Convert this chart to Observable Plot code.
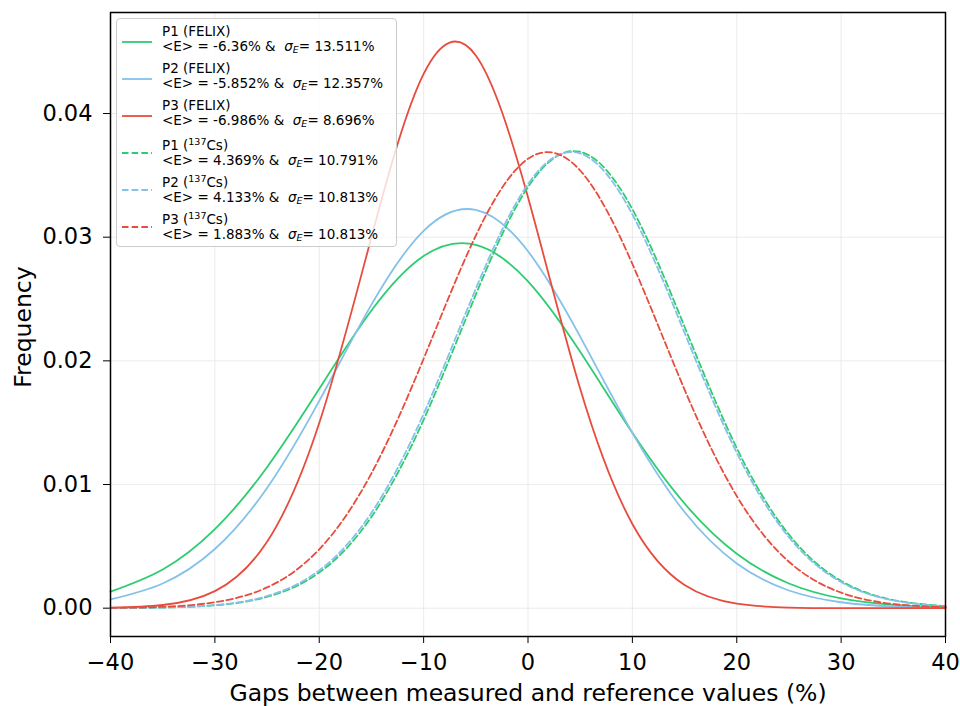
<!DOCTYPE html>
<html>
<head>
<meta charset="utf-8">
<script src="https://cdn.jsdelivr.net/npm/d3@7"></script>
<script src="https://cdn.jsdelivr.net/npm/@observablehq/plot@0.6"></script>
<style>
  body { margin: 0; background: white; font-family: "DejaVu Sans", sans-serif; }
  #wrap { position: relative; width: 960px; height: 706px; }
  #legend { position: absolute; left: 116px; top: 18px; width: 281px; height: 229px;
    border: 1px solid #cccccc; border-radius: 4px; background: rgba(255,255,255,0.8); box-sizing: border-box; }
  .entry { position: absolute; left: 45px; font-size: 13.5px; line-height: 14.7px; color: black; white-space: pre; }
  .sample { position: absolute; left: 5px; }
  .axlabel { position: absolute; font-size: 23.5px; line-height: 27px; color: black; white-space: nowrap; }
</style>
</head>
<body>
<div id="wrap"></div>
<script>
// ---- data ----
const xs = [-40, -35, -30, -25, -20, -15, -10, -5, 0, 5, 10, 15, 20, 25, 30, 35, 40];
const p1Felix = [0.001331, 0.003123, 0.006389, 0.011401, 0.017738, 0.024067, 0.028475, 0.029378, 0.026431, 0.020735, 0.014185, 0.008462, 0.004402, 0.001997, 0.000790, 0.000272, 0.000082];
const p2Felix = [0.000709, 0.001999, 0.004783, 0.009718, 0.016763, 0.024546, 0.030516, 0.032208, 0.028860, 0.021955, 0.014179, 0.007774, 0.003619, 0.001430, 0.000480, 0.000137, 0.000033];
const p3Felix = [0.000034, 0.000256, 0.001383, 0.005367, 0.014971, 0.030003, 0.043202, 0.044695, 0.033223, 0.017744, 0.006809, 0.001877, 0.000372, 0.000053, 0.0000054, 0.0000004, 0.0];
const p1Cs = [0.0000079, 0.0000476, 0.000232, 0.000911, 0.002887, 0.007383, 0.015234, 0.025360, 0.034061, 0.036907, 0.032264, 0.022756, 0.012949, 0.005944, 0.002202, 0.000658, 0.000159];
const p2Cs = [0.0000089, 0.0000528, 0.000253, 0.000979, 0.003057, 0.007711, 0.015704, 0.025826, 0.034296, 0.036777, 0.031845, 0.022266, 0.012572, 0.005732, 0.002110, 0.000627, 0.000151];
const p3Cs = [0.0000204, 0.000110, 0.000478, 0.001678, 0.004760, 0.010904, 0.020170, 0.030129, 0.036340, 0.035393, 0.027836, 0.017677, 0.009065, 0.003754, 0.001255, 0.000339, 0.0000739];
const seriesNames = ["P1 (FELIX)", "P2 (FELIX)", "P3 (FELIX)", "P1 (137Cs)", "P2 (137Cs)", "P3 (137Cs)"];
const legendTitles = ["P1 (FELIX)", "P2 (FELIX)", "P3 (FELIX)", "P1 (<sup>137</sup>Cs)", "P2 (<sup>137</sup>Cs)", "P3 (<sup>137</sup>Cs)"];
const meanE = ["-6.36", "-5.852", "-6.986", "4.369", "4.133", "1.883"];
const sigmaE = ["13.511", "12.357", "8.696", "10.791", "10.813", "10.813"];
const xTicks = [-40, -30, -20, -10, 0, 10, 20, 30, 40];
const yTicks = [0, 0.01, 0.02, 0.03, 0.04];

// ---- styles ----
const colors = ["#2ecc71", "#85c1e9", "#e74c3c", "#2ecc71", "#85c1e9", "#e74c3c"];
const dashed = [false, false, false, true, true, true];
const dash = "6.5,3.2";

const allValues = [p1Felix, p2Felix, p3Felix, p1Cs, p2Cs, p3Cs];

const lineMarks = allValues.map((vals, i) => {
  const rows = xs.map((x, j) => ({x, y: vals[j]}));
  return Plot.line(rows, {
    x: "x", y: "y", curve: "natural",
    stroke: colors[i], strokeWidth: 1.8,
    strokeDasharray: dashed[i] ? dash : null
  });
});

const chart = Plot.plot({
  width: 960, height: 706,
  marginLeft: 110, marginRight: 15, marginTop: 12, marginBottom: 70,
  x: {domain: [-40, 40], ticks: xTicks, tickSize: 7, tickPadding: 11, label: null},
  y: {domain: [-0.00229, 0.04817], ticks: yTicks, tickFormat: d3.format(".2f"), tickSize: 7, tickPadding: 11, label: null},
  style: {fontFamily: "DejaVu Sans", fontSize: "22.5px", color: "black", background: "white"},
  marks: [
    Plot.gridX(xTicks, {stroke: "#e6e6e6", strokeOpacity: 1, strokeWidth: 0.8}),
    Plot.gridY(yTicks, {stroke: "#e6e6e6", strokeOpacity: 1, strokeWidth: 0.8}),
    ...lineMarks,
    Plot.frame({stroke: "black", strokeWidth: 1.5})
  ]
});

const wrap = document.getElementById("wrap");
wrap.appendChild(chart);
chart.style.position = "absolute";
chart.style.left = "0px";
chart.style.top = "0px";

// axis titles
const xl = document.createElement("div");
xl.className = "axlabel";
xl.textContent = "Gaps between measured and reference values (%)";
xl.style.left = "528px"; xl.style.top = "680px"; xl.style.transform = "translateX(-50%)";
wrap.appendChild(xl);

const yl = document.createElement("div");
yl.className = "axlabel";
yl.textContent = "Frequency";
yl.style.left = "23px"; yl.style.top = "327px";
yl.style.transform = "translate(-50%,-50%) rotate(-90deg)";
wrap.appendChild(yl);

// legend
const legend = document.createElement("div");
legend.id = "legend";
seriesNames.forEach((name, i) => {
  const t = document.createElement("div");
  t.className = "entry";
  t.style.top = (5 + 37 * i) + "px";
  t.innerHTML = legendTitles[i] + "<br>&lt;E&gt; = " + meanE[i] + "% &amp;  <i>σ<sub style='font-size:9.5px'>E</sub></i>= " + sigmaE[i] + "%";
  t.querySelectorAll("sup").forEach(s => { s.style.fontSize = "9.5px"; s.style.verticalAlign = "5px"; });
  t.querySelectorAll("sub").forEach(s => { s.style.verticalAlign = "-2px"; });
  legend.appendChild(t);
  const svg = d3.create("svg").attr("class", "sample").attr("width", 30).attr("height", 4)
    .style("top", (20.5 + 37 * i) + "px");
  svg.append("line").attr("x1", 0).attr("x2", 30).attr("y1", 2).attr("y2", 2)
    .attr("stroke", colors[i]).attr("stroke-width", 1.8)
    .attr("stroke-dasharray", dashed[i] ? dash : null);
  legend.appendChild(svg.node());
});
wrap.appendChild(legend);
</script>
</body>
</html>
